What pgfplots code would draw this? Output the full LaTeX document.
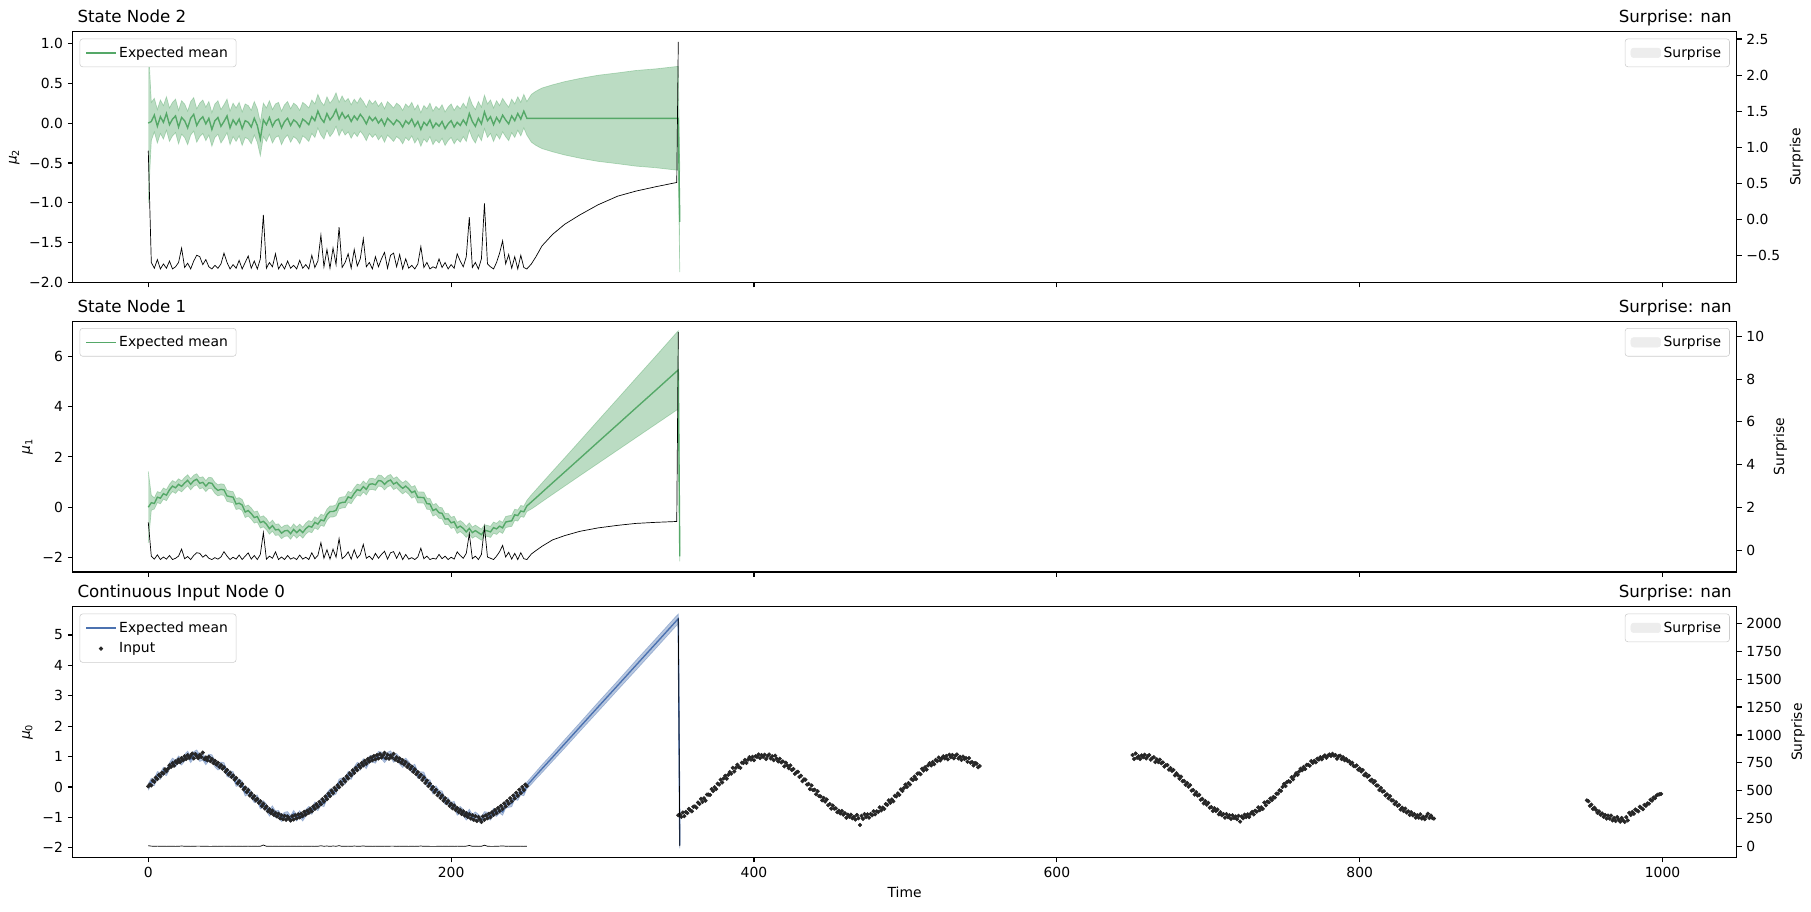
\documentclass[border=0pt]{standalone}
\usepackage{fontspec}
\setmainfont{DejaVu Sans}
\usepackage{pgfplots}
\pgfplotsset{compat=1.18}
\usepackage{pgfplotstable}

\definecolor{cgreen}{HTML}{55A868}
\definecolor{cblue}{HTML}{4C72B0}
\definecolor{cdot}{HTML}{262626}

\pgfplotstableread{
t m2 w2 e2 m1 w1 e1 m0 w0 e0
0 0.00 1.00 0.95 0.00 1.42 1.30 0.00 0.11 8
2 0.02 0.24 -0.60 0.18 0.30 -0.28 0.18 0.11 4
4 0.10 0.21 -0.68 0.15 0.22 -0.42 0.15 0.11 3
6 -0.04 0.21 -0.56 0.40 0.22 -0.22 0.40 0.11 4
8 0.08 0.21 -0.69 0.36 0.22 -0.44 0.36 0.11 3
10 0.01 0.21 -0.62 0.54 0.22 -0.32 0.54 0.11 3
12 0.12 0.21 -0.68 0.48 0.22 -0.42 0.48 0.11 2
14 -0.02 0.21 -0.58 0.69 0.22 -0.25 0.69 0.11 3
16 0.05 0.21 -0.69 0.84 0.22 -0.44 0.84 0.11 3
18 0.09 0.21 -0.66 0.77 0.22 -0.38 0.77 0.11 2
20 -0.05 0.21 -0.60 0.91 0.22 -0.28 0.91 0.11 3
22 0.07 0.21 -0.40 0.83 0.22 0.05 0.83 0.11 5
24 0.03 0.21 -0.67 0.96 0.22 -0.40 0.96 0.11 3
26 -0.06 0.21 -0.61 1.07 0.22 -0.30 1.07 0.11 3
28 0.06 0.21 -0.69 0.91 0.22 -0.44 0.91 0.11 2
30 0.11 0.21 -0.58 1.05 0.22 -0.25 1.05 0.11 3
32 -0.03 0.21 -0.50 1.11 0.22 -0.12 1.11 0.11 4
34 0.04 0.21 -0.52 0.95 0.22 -0.15 0.95 0.11 4
36 0.08 0.21 -0.63 0.99 0.22 -0.33 0.99 0.11 3
38 -0.01 0.21 -0.56 0.84 0.22 -0.22 0.84 0.11 3
40 0.06 0.21 -0.66 0.97 0.22 -0.38 0.97 0.11 2
42 -0.08 0.21 -0.69 0.95 0.22 -0.44 0.95 0.11 2
44 0.03 0.21 -0.64 0.77 0.22 -0.35 0.77 0.11 3
46 0.07 0.21 -0.68 0.67 0.22 -0.42 0.67 0.11 2
48 -0.04 0.21 -0.62 0.71 0.22 -0.32 0.71 0.11 3
50 0.02 0.21 -0.47 0.69 0.22 -0.07 0.69 0.11 4
52 0.09 0.21 -0.60 0.45 0.22 -0.28 0.45 0.11 3
54 -0.06 0.21 -0.69 0.42 0.22 -0.44 0.42 0.11 2
56 0.04 0.21 -0.63 0.40 0.22 -0.33 0.40 0.11 3
58 -0.02 0.21 -0.68 0.13 0.22 -0.42 0.13 0.11 2
60 0.05 0.21 -0.57 0.16 0.22 -0.23 0.16 0.11 3
62 -0.07 0.21 -0.69 0.09 0.22 -0.44 0.09 0.11 2
64 0.03 0.21 -0.60 -0.19 0.22 -0.28 -0.19 0.11 3
66 0.01 0.21 -0.51 -0.13 0.22 -0.13 -0.13 0.11 4
68 -0.05 0.21 -0.68 -0.25 0.22 -0.42 -0.25 0.11 2
70 0.06 0.21 -0.58 -0.41 0.22 -0.25 -0.41 0.11 3
72 -0.03 0.21 -0.69 -0.37 0.22 -0.44 -0.37 0.11 2
74 -0.20 0.21 -0.55 -0.61 0.22 -0.20 -0.61 0.11 3
76 0.04 0.21 0.06 -0.56 0.22 0.82 -0.56 0.11 14
78 -0.02 0.21 -0.68 -0.67 0.22 -0.42 -0.67 0.11 3
80 0.07 0.21 -0.60 -0.85 0.22 -0.28 -0.85 0.11 3
82 -0.04 0.21 -0.66 -0.73 0.22 -0.38 -0.73 0.11 2
84 0.03 0.21 -0.48 -0.90 0.22 -0.08 -0.90 0.11 4
86 0.05 0.21 -0.69 -0.88 0.22 -0.44 -0.88 0.11 2
88 -0.06 0.21 -0.62 -1.03 0.22 -0.32 -1.03 0.11 3
90 0.02 0.21 -0.69 -0.94 0.22 -0.44 -0.94 0.11 2
92 0.06 0.21 -0.58 -0.92 0.22 -0.25 -0.92 0.11 3
94 -0.03 0.21 -0.68 -1.05 0.22 -0.42 -1.05 0.11 2
96 0.04 0.21 -0.64 -0.88 0.22 -0.35 -0.88 0.11 3
98 0.01 0.21 -0.69 -1.01 0.22 -0.44 -1.01 0.11 2
100 -0.05 0.21 -0.57 -0.89 0.22 -0.23 -0.89 0.11 3
102 0.05 0.21 -0.68 -1.01 0.22 -0.42 -1.01 0.11 2
104 0.02 0.21 -0.63 -0.85 0.22 -0.33 -0.85 0.11 3
106 -0.02 0.21 -0.69 -0.75 0.22 -0.44 -0.75 0.11 2
108 0.08 0.21 -0.50 -0.79 0.22 -0.12 -0.79 0.11 4
110 0.03 0.21 -0.67 -0.60 0.22 -0.40 -0.60 0.11 2
112 0.15 0.21 -0.58 -0.67 0.22 -0.25 -0.67 0.11 3
114 0.06 0.21 -0.22 -0.50 0.22 0.35 -0.50 0.11 7
116 0.01 0.21 -0.66 -0.54 0.22 -0.38 -0.54 0.11 3
118 0.12 0.21 -0.42 -0.30 0.22 0.02 -0.30 0.11 5
120 0.04 0.21 -0.68 -0.17 0.22 -0.42 -0.17 0.11 2
122 0.09 0.21 -0.40 -0.17 0.22 0.05 -0.17 0.11 5
124 0.17 0.21 -0.63 -0.12 0.22 -0.33 -0.12 0.11 3
126 0.05 0.21 -0.11 0.15 0.22 0.54 0.15 0.11 8
128 0.13 0.21 -0.67 0.19 0.22 -0.40 0.19 0.11 2
130 0.06 0.21 -0.60 0.20 0.22 -0.28 0.20 0.11 3
132 0.10 0.21 -0.48 0.41 0.22 -0.08 0.41 0.11 4
134 0.02 0.21 -0.68 0.36 0.22 -0.42 0.36 0.11 2
136 0.09 0.21 -0.42 0.55 0.22 0.02 0.55 0.11 5
138 0.04 0.21 -0.65 0.70 0.22 -0.37 0.70 0.11 3
140 0.11 0.21 -0.55 0.66 0.22 -0.20 0.66 0.11 3
142 0.06 0.21 -0.27 0.82 0.22 0.27 0.82 0.11 6
144 -0.01 0.21 -0.66 0.71 0.22 -0.38 0.71 0.11 2
146 0.08 0.21 -0.60 0.91 0.22 -0.28 0.91 0.11 3
148 0.03 0.21 -0.69 0.93 0.22 -0.44 0.93 0.11 2
150 0.07 0.21 -0.52 0.89 0.22 -0.15 0.89 0.11 4
152 0.00 0.21 -0.66 1.06 0.22 -0.38 1.06 0.11 2
154 0.05 0.21 -0.55 1.04 0.22 -0.20 1.04 0.11 3
156 -0.03 0.21 -0.46 0.91 0.22 -0.05 0.91 0.11 4
158 0.06 0.21 -0.68 1.03 0.22 -0.42 1.03 0.11 2
160 0.02 0.21 -0.50 1.08 0.22 -0.12 1.08 0.11 4
162 -0.02 0.21 -0.47 0.92 0.22 -0.07 0.92 0.11 4
164 0.04 0.21 -0.66 0.99 0.22 -0.38 0.99 0.11 2
166 0.01 0.21 -0.49 0.86 0.22 -0.10 0.86 0.11 4
168 -0.05 0.21 -0.69 0.75 0.22 -0.44 0.75 0.11 2
170 0.03 0.21 -0.55 0.84 0.22 -0.20 0.84 0.11 3
172 -0.01 0.21 -0.68 0.73 0.22 -0.42 0.73 0.11 2
174 0.05 0.21 -0.64 0.58 0.22 -0.35 0.58 0.11 3
176 -0.04 0.21 -0.69 0.64 0.22 -0.44 0.64 0.11 2
178 0.02 0.21 -0.62 0.39 0.22 -0.32 0.39 0.11 3
180 -0.08 0.21 -0.38 0.39 0.22 0.09 0.39 0.11 5
182 0.01 0.21 -0.67 0.38 0.22 -0.40 0.38 0.11 2
184 -0.03 0.21 -0.60 0.14 0.22 -0.28 0.14 0.11 3
186 0.04 0.21 -0.69 0.13 0.22 -0.44 0.13 0.11 2
188 -0.06 0.21 -0.66 -0.13 0.22 -0.38 -0.13 0.11 2
190 0.00 0.21 -0.68 -0.07 0.22 -0.42 -0.07 0.11 2
192 -0.04 0.21 -0.55 -0.22 0.22 -0.20 -0.22 0.11 3
194 0.02 0.21 -0.67 -0.24 0.22 -0.40 -0.24 0.11 2
196 -0.07 0.21 -0.60 -0.47 0.22 -0.28 -0.47 0.11 3
198 -0.01 0.21 -0.69 -0.46 0.22 -0.44 -0.46 0.11 2
200 0.03 0.21 -0.63 -0.62 0.22 -0.33 -0.62 0.11 3
202 -0.05 0.21 -0.68 -0.58 0.22 -0.42 -0.58 0.11 2
204 0.01 0.21 -0.48 -0.82 0.22 -0.08 -0.82 0.11 4
206 -0.03 0.21 -0.58 -0.75 0.22 -0.25 -0.75 0.11 3
208 0.04 0.21 -0.66 -0.84 0.22 -0.38 -0.84 0.11 2
210 -0.02 0.21 -0.52 -0.98 0.22 -0.15 -0.98 0.11 4
212 0.12 0.21 0.03 -0.84 0.22 0.77 -0.84 0.11 10
214 0.02 0.21 -0.67 -1.01 0.22 -0.40 -1.01 0.11 2
216 -0.04 0.21 -0.60 -0.93 0.22 -0.28 -0.93 0.11 3
218 0.06 0.21 -0.69 -1.01 0.22 -0.44 -1.01 0.11 2
220 -0.01 0.21 -0.55 -1.09 0.22 -0.20 -1.09 0.11 3
222 0.14 0.21 0.22 -0.92 0.22 1.09 -0.92 0.11 12
224 0.03 0.21 -0.62 -0.94 0.22 -0.32 -0.94 0.11 3
226 0.08 0.21 -0.66 -0.98 0.22 -0.38 -0.98 0.11 2
228 -0.02 0.21 -0.69 -0.81 0.22 -0.44 -0.81 0.11 2
230 0.07 0.21 -0.60 -0.86 0.22 -0.28 -0.86 0.11 3
232 0.01 0.21 -0.47 -0.75 0.22 -0.07 -0.75 0.11 4
234 0.10 0.21 -0.30 -0.82 0.22 0.22 -0.82 0.11 6
236 0.04 0.21 -0.62 -0.59 0.22 -0.32 -0.59 0.11 3
238 -0.01 0.21 -0.49 -0.56 0.22 -0.10 -0.56 0.11 4
240 0.09 0.21 -0.68 -0.54 0.22 -0.42 -0.54 0.11 2
242 0.03 0.21 -0.52 -0.30 0.22 -0.15 -0.30 0.11 4
244 0.12 0.21 -0.69 -0.33 0.22 -0.44 -0.33 0.11 2
246 0.05 0.21 -0.50 -0.15 0.22 -0.12 -0.15 0.11 4
248 0.15 0.21 -0.67 -0.18 0.22 -0.40 -0.18 0.11 2
250 0.06 0.21 -0.69 0.05 0.22 -0.44 0.05 0.11 3
253 0.06 0.30 -0.62 0.21 0.28 -0.18 0.21 0.12 nan
256 0.06 0.34 -0.52 0.37 0.32 -0.02 0.38 0.12 nan
260 0.06 0.38 -0.37 0.59 0.37 0.18 0.60 0.13 nan
267 0.06 0.42 -0.21 0.97 0.46 0.48 0.98 0.13 nan
275 0.06 0.46 -0.07 1.40 0.56 0.68 1.42 0.14 nan
285 0.06 0.50 0.06 1.94 0.69 0.88 1.97 0.14 nan
297 0.06 0.54 0.20 2.59 0.85 1.04 2.63 0.15 nan
310 0.06 0.57 0.32 3.29 1.02 1.16 3.34 0.15 nan
322 0.06 0.60 0.39 3.94 1.18 1.25 4.00 0.16 nan
335 0.06 0.62 0.45 4.64 1.35 1.30 4.71 0.16 nan
349 0.06 0.65 0.51 5.40 1.54 1.34 5.48 0.16 nan
350 0.06 0.65 2.46 5.45 1.55 10.19 5.53 0.16 2045
351 -1.24 0.63 nan -1.95 0.20 nan -1.92 0.10 3
}\tMain

\pgfplotstableread[row sep=\\]{
t u\\
0 0.02\\1 0.08\\2 0.05\\3 0.21\\4 0.17\\5 0.31\\6 0.26\\7 0.40\\8 0.35\\9 0.47\\
10 0.44\\11 0.58\\12 0.52\\13 0.60\\14 0.71\\15 0.66\\16 0.78\\17 0.70\\18 0.84\\19 0.79\\
20 0.90\\21 0.82\\22 0.95\\23 0.88\\24 1.01\\25 0.92\\26 1.05\\27 0.96\\28 1.02\\29 1.10\\
30 0.94\\31 1.08\\32 1.01\\33 0.95\\34 1.06\\35 0.99\\36 1.13\\37 0.92\\38 0.97\\39 0.88\\
40 0.99\\41 0.85\\42 0.92\\43 0.79\\44 0.86\\45 0.74\\46 0.80\\47 0.66\\48 0.72\\49 0.60\\
50 0.65\\51 0.50\\52 0.56\\53 0.41\\54 0.47\\55 0.33\\56 0.38\\57 0.24\\58 0.30\\59 0.12\\
60 0.19\\61 0.03\\62 0.10\\63 -0.08\\64 -0.02\\65 -0.17\\66 -0.10\\67 -0.28\\68 -0.21\\69 -0.36\\
70 -0.30\\71 -0.44\\72 -0.39\\73 -0.52\\74 -0.47\\75 -0.63\\76 -0.55\\77 -0.71\\78 -0.64\\79 -0.80\\
80 -0.73\\81 -0.86\\82 -0.78\\83 -0.92\\84 -0.85\\85 -0.97\\86 -0.88\\87 -1.03\\88 -0.93\\89 -1.06\\
90 -0.95\\91 -1.08\\92 -0.97\\93 -1.04\\94 -1.10\\95 -0.96\\96 -1.07\\97 -0.93\\98 -1.03\\99 -0.90\\
100 -1.00\\101 -0.88\\102 -0.95\\103 -0.82\\104 -0.91\\105 -0.78\\106 -0.85\\107 -0.72\\108 -0.80\\109 -0.64\\
110 -0.72\\111 -0.57\\112 -0.65\\113 -0.49\\114 -0.57\\115 -0.40\\116 -0.48\\117 -0.31\\118 -0.40\\119 -0.22\\
120 -0.30\\121 -0.12\\122 -0.20\\123 -0.03\\124 -0.10\\125 0.06\\126 -0.01\\127 0.16\\128 0.08\\129 0.26\\
130 0.18\\131 0.35\\132 0.28\\133 0.45\\134 0.38\\135 0.55\\136 0.46\\137 0.63\\138 0.55\\139 0.72\\
140 0.64\\141 0.79\\142 0.71\\143 0.86\\144 0.77\\145 0.92\\146 0.84\\147 0.97\\148 0.88\\149 1.02\\
150 0.91\\151 1.05\\152 0.94\\153 1.08\\154 0.97\\155 1.04\\156 1.12\\157 0.95\\158 1.06\\159 0.93\\
160 1.03\\161 0.97\\162 1.09\\163 0.90\\164 0.98\\165 0.85\\166 0.94\\167 0.80\\168 0.88\\169 0.74\\
170 0.82\\171 0.66\\172 0.74\\173 0.59\\174 0.67\\175 0.50\\176 0.58\\177 0.42\\178 0.49\\179 0.33\\
180 0.40\\181 0.23\\182 0.31\\183 0.13\\184 0.21\\185 0.03\\186 0.11\\187 -0.07\\188 0.00\\189 -0.17\\
190 -0.09\\191 -0.27\\192 -0.19\\193 -0.36\\194 -0.28\\195 -0.45\\196 -0.37\\197 -0.53\\198 -0.46\\199 -0.62\\
200 -0.55\\201 -0.70\\202 -0.61\\203 -0.76\\204 -0.69\\205 -0.83\\206 -0.75\\207 -0.89\\208 -0.80\\209 -0.94\\
210 -0.86\\211 -0.99\\212 -0.90\\213 -1.04\\214 -0.93\\215 -1.08\\216 -0.96\\217 -1.12\\218 -0.99\\219 -1.06\\
220 -1.15\\221 -0.97\\222 -1.08\\223 -0.93\\224 -1.03\\225 -0.88\\226 -0.99\\227 -0.83\\228 -0.92\\229 -0.76\\
230 -0.86\\231 -0.69\\232 -0.79\\233 -0.62\\234 -0.72\\235 -0.54\\236 -0.64\\237 -0.46\\238 -0.55\\239 -0.37\\
240 -0.47\\241 -0.28\\242 -0.38\\243 -0.19\\244 -0.29\\245 -0.09\\246 -0.20\\247 0.00\\248 -0.10\\249 0.08\\
250 0.03\\
350 -0.93\\351 -0.90\\352 -0.98\\353 -0.84\\354 -0.96\\355 -0.82\\356 -0.86\\357 -0.72\\358 -0.77\\359 -0.80\\
360 -0.65\\361 -0.64\\362 -0.68\\363 -0.51\\364 -0.56\\365 -0.39\\366 -0.49\\367 -0.37\\368 -0.45\\369 -0.25\\
370 -0.25\\371 -0.26\\372 -0.07\\373 -0.13\\374 -0.01\\375 -0.07\\376 0.11\\377 0.08\\378 0.24\\379 0.15\\
380 0.28\\381 0.37\\382 0.27\\383 0.40\\384 0.49\\385 0.44\\386 0.63\\387 0.51\\388 0.63\\389 0.73\\
390 0.66\\391 0.63\\392 0.80\\393 0.79\\394 0.89\\395 0.79\\396 0.90\\397 0.98\\398 0.90\\399 0.99\\
400 0.88\\401 1.01\\402 0.99\\403 1.07\\404 0.95\\405 1.05\\406 0.99\\407 1.06\\408 0.92\\409 1.02\\
410 1.07\\411 0.94\\412 1.01\\413 0.88\\414 1.03\\415 0.93\\416 0.84\\417 0.93\\418 0.81\\419 0.84\\
420 0.68\\421 0.80\\422 0.71\\423 0.62\\424 0.71\\425 0.56\\426 0.59\\427 0.43\\428 0.48\\429 0.50\\
430 0.33\\431 0.37\\432 0.19\\433 0.25\\434 0.24\\435 0.08\\436 0.10\\437 -0.07\\438 0.05\\439 -0.10\\
440 -0.09\\441 -0.24\\442 -0.14\\443 -0.30\\444 -0.31\\445 -0.44\\446 -0.36\\447 -0.48\\448 -0.41\\449 -0.60\\
450 -0.56\\451 -0.71\\452 -0.61\\453 -0.71\\454 -0.70\\455 -0.83\\456 -0.78\\457 -0.87\\458 -0.79\\459 -0.91\\
460 -0.86\\461 -1.01\\462 -0.91\\463 -0.98\\464 -0.91\\465 -1.03\\466 -0.98\\467 -1.07\\468 -0.92\\469 -1.03\\
470 -1.25\\471 -0.95\\472 -1.05\\473 -0.89\\474 -0.99\\475 -0.90\\476 -1.01\\477 -0.89\\478 -0.93\\479 -0.80\\
480 -0.90\\481 -0.80\\482 -0.82\\483 -0.67\\484 -0.77\\485 -0.68\\486 -0.72\\487 -0.56\\488 -0.59\\489 -0.44\\
490 -0.52\\491 -0.41\\492 -0.47\\493 -0.29\\494 -0.31\\495 -0.21\\496 -0.26\\497 -0.08\\498 -0.13\\499 -0.03\\
500 0.08\\501 0.00\\502 0.13\\503 0.08\\504 0.26\\505 0.23\\506 0.34\\507 0.26\\508 0.44\\509 0.45\\
510 0.42\\511 0.60\\512 0.54\\513 0.65\\514 0.57\\515 0.71\\516 0.78\\517 0.71\\518 0.82\\519 0.75\\
520 0.89\\521 0.85\\522 0.97\\523 0.87\\524 0.94\\525 1.01\\526 0.94\\527 1.02\\528 0.91\\529 1.06\\
530 0.98\\531 1.05\\532 0.94\\533 1.03\\534 1.07\\535 0.94\\536 0.99\\537 0.89\\538 1.00\\539 0.92\\
540 0.95\\541 0.83\\542 0.95\\543 0.80\\544 0.82\\545 0.71\\546 0.79\\547 0.77\\548 0.65\\549 0.69\\
650 1.05\\651 0.92\\652 1.10\\653 0.96\\654 1.01\\655 0.92\\656 1.04\\657 0.98\\658 1.06\\659 0.94\\
660 1.01\\661 1.05\\662 0.90\\663 0.95\\664 0.98\\665 0.82\\666 0.91\\667 0.82\\668 0.90\\669 0.78\\
670 0.81\\671 0.67\\672 0.72\\673 0.72\\674 0.57\\675 0.62\\676 0.53\\677 0.56\\678 0.38\\679 0.45\\
680 0.38\\681 0.27\\682 0.34\\683 0.19\\684 0.20\\685 0.07\\686 0.13\\687 0.01\\688 0.06\\689 -0.12\\
690 -0.10\\691 -0.25\\692 -0.17\\693 -0.28\\694 -0.26\\695 -0.42\\696 -0.39\\697 -0.54\\698 -0.46\\699 -0.58\\
700 -0.52\\701 -0.68\\702 -0.66\\703 -0.79\\704 -0.70\\705 -0.79\\706 -0.74\\707 -0.90\\708 -0.83\\709 -0.93\\
710 -0.89\\711 -1.01\\712 -0.89\\713 -0.99\\714 -0.93\\715 -1.05\\716 -0.93\\717 -1.02\\718 -0.97\\719 -1.06\\
720 -0.95\\721 -1.14\\722 -0.97\\723 -1.03\\724 -0.91\\725 -0.99\\726 -0.90\\727 -0.99\\728 -0.88\\729 -0.82\\
730 -0.90\\731 -0.78\\732 -0.81\\733 -0.67\\734 -0.76\\735 -0.67\\736 -0.72\\737 -0.51\\738 -0.60\\739 -0.48\\
740 -0.50\\741 -0.38\\742 -0.43\\743 -0.33\\744 -0.35\\745 -0.22\\746 -0.22\\747 -0.11\\748 -0.13\\749 0.00\\
750 0.10\\751 0.03\\752 0.16\\753 0.19\\754 0.17\\755 0.32\\756 0.25\\757 0.37\\758 0.45\\759 0.40\\
760 0.51\\761 0.60\\762 0.55\\763 0.66\\764 0.59\\765 0.73\\766 0.73\\767 0.70\\768 0.85\\769 0.79\\
770 0.86\\771 0.81\\772 0.93\\773 0.90\\774 0.98\\775 0.91\\776 1.00\\777 1.04\\778 0.96\\779 1.03\\
780 1.07\\781 1.02\\782 1.09\\783 1.03\\784 1.05\\785 0.93\\786 1.01\\787 1.03\\788 0.92\\789 0.98\\
790 0.88\\791 0.92\\792 0.85\\793 0.85\\794 0.76\\795 0.80\\796 0.69\\797 0.68\\798 0.71\\799 0.57\\
800 0.61\\801 0.51\\802 0.56\\803 0.39\\804 0.44\\805 0.34\\806 0.37\\807 0.21\\808 0.24\\809 0.14\\
810 0.19\\811 0.05\\812 0.05\\813 -0.10\\814 -0.03\\815 -0.15\\816 -0.14\\817 -0.28\\818 -0.24\\819 -0.37\\
820 -0.30\\821 -0.44\\822 -0.44\\823 -0.56\\824 -0.50\\825 -0.62\\826 -0.59\\827 -0.74\\828 -0.68\\829 -0.79\\
830 -0.71\\831 -0.84\\832 -0.80\\833 -0.92\\834 -0.83\\835 -0.93\\836 -0.89\\837 -1.01\\838 -0.93\\839 -1.01\\
840 -0.90\\841 -1.04\\842 -0.98\\843 -1.06\\844 -0.96\\845 -0.88\\846 -1.02\\847 -0.94\\848 -1.02\\849 -1.04\\
950 -0.44\\951 -0.47\\952 -0.62\\953 -0.58\\954 -0.72\\955 -0.68\\956 -0.75\\957 -0.85\\958 -0.80\\959 -0.91\\
960 -0.87\\961 -0.98\\962 -0.92\\963 -1.04\\964 -0.94\\965 -1.04\\966 -0.94\\967 -1.10\\968 -1.02\\969 -1.12\\
970 -0.99\\971 -1.07\\972 -1.14\\973 -1.02\\974 -1.10\\975 -1.15\\976 -0.99\\977 -1.10\\978 -0.85\\979 -0.92\\
980 -0.82\\981 -0.88\\982 -0.74\\983 -0.77\\984 -0.80\\985 -0.65\\986 -0.69\\987 -0.73\\988 -0.59\\989 -0.62\\
990 -0.54\\991 -0.55\\992 -0.42\\993 -0.45\\994 -0.35\\995 -0.37\\996 -0.28\\997 -0.25\\998 -0.24\\999 -0.23\\
}\tIn

\pgfplotsset{
  base/.style={scale only axis, width=1198.1pt, height=180.6pt,
    xmin=-49.95, xmax=1048.95, tick align=outside, major tick length=3.5pt,
    unbounded coords=jump,
    every tick/.style={black, line width=0.8pt},
    axis line style={line width=0.8pt},
    tick label style={font=\fontsize{10}{12}\selectfont},
    label style={font=\fontsize{10}{12}\selectfont},
    legend style={font=\fontsize{10}{12}\selectfont, draw=black!20, rounded corners=2pt,
      inner xsep=4pt, inner ysep=3.5pt, row sep=2pt},
    legend cell align=left},
  leftax/.style={base, xtick={0,200,400,600,800,1000}, xtick pos=left, ytick pos=left,
    legend style={at={(0,1)}, anchor=north west, xshift=5pt, yshift=-5pt},
    legend image code/.code={\draw[##1] (0cm,0cm) -- (0.75cm,0cm);}},
  rightax/.style={base, axis y line*=right, axis x line=none, ylabel={Surprise},
    legend style={at={(1,1)}, anchor=north east, xshift=-5pt, yshift=-5pt},
    legend image code/.code={\fill[black!7] (0cm,-0.12cm) rectangle (0.75cm,0.12cm);}},
  edge/.style={opacity=0.4, line width=0.5pt},
}

\begin{document}
\begin{tikzpicture}
\useasboundingbox (-52.3pt,-452.7pt) rectangle (1251.6pt,203.4pt);

%% ---------------- Panel: State Node 2 ----------------
\begin{axis}[leftax, name=p2, at={(0pt,0pt)}, anchor=south west,
  ymin=-2.0, ymax=1.147, ytick={-2,-1.5,-1,-0.5,0,0.5,1},
  yticklabels={−2.0,−1.5,−1.0,−0.5,0.0,0.5,1.0}, xticklabels={},
  ylabel={\textit{μ}\textsubscript{2}}]
\addlegendimage{cgreen, line width=1pt}
\addlegendentry{Expected mean}
\addplot[draw=none, stack plots=y] table[x=t, y expr=\thisrow{m2}-\thisrow{w2}]{\tMain};
\addplot[draw=none, fill=cgreen, fill opacity=0.4, stack plots=y] table[x=t, y expr=2*\thisrow{w2}]{\tMain} \closedcycle;
\addplot[cgreen, edge] table[x=t, y expr=\thisrow{m2}+\thisrow{w2}]{\tMain};
\addplot[cgreen, edge] table[x=t, y expr=\thisrow{m2}-\thisrow{w2}]{\tMain};
\addplot[cgreen, line width=1pt] table[x=t, y=m2]{\tMain};
\end{axis}
\begin{axis}[rightax, at={(0pt,0pt)}, anchor=south west,
  ymin=-0.878, ymax=2.602, ytick={-0.5,0,0.5,1,1.5,2,2.5},
  yticklabels={−0.5,0.0,0.5,1.0,1.5,2.0,2.5}]
\addlegendimage{black!7}
\addlegendentry{Surprise}
\addplot[black, line width=0.5pt] table[x=t, y=e2]{\tMain};
\end{axis}
\node[anchor=base west, font=\fontsize{12}{14}\selectfont] at ([yshift=6.5pt]p2.north west) {State Node 2};
\node[anchor=base east, font=\fontsize{12}{14}\selectfont] at ([yshift=6.5pt]p2.north east) {Surprise: nan};

%% ---------------- Panel: State Node 1 ----------------
\begin{axis}[leftax, name=p1, at={(0pt,-208.4pt)}, anchor=south west,
  ymin=-2.57, ymax=7.39, ytick={-2,0,2,4,6},
  yticklabels={−2,0,2,4,6}, xticklabels={},
  ylabel={\textit{μ}\textsubscript{1}}]
\addlegendimage{cgreen, line width=1pt}
\addlegendentry{Expected mean}
\addplot[draw=none, stack plots=y] table[x=t, y expr=\thisrow{m1}-\thisrow{w1}]{\tMain};
\addplot[draw=none, fill=cgreen, fill opacity=0.4, stack plots=y] table[x=t, y expr=2*\thisrow{w1}]{\tMain} \closedcycle;
\addplot[cgreen, edge] table[x=t, y expr=\thisrow{m1}+\thisrow{w1}]{\tMain};
\addplot[cgreen, edge] table[x=t, y expr=\thisrow{m1}-\thisrow{w1}]{\tMain};
\addplot[cgreen, line width=1pt] table[x=t, y=m1]{\tMain};
\end{axis}
\begin{axis}[rightax, at={(0pt,-208.4pt)}, anchor=south west,
  ymin=-1.02, ymax=10.71, ytick={0,2,4,6,8,10},
  yticklabels={0,2,4,6,8,10}]
\addlegendimage{black!7}
\addlegendentry{Surprise}
\addplot[black, line width=0.5pt] table[x=t, y=e1]{\tMain};
\end{axis}
\node[anchor=base west, font=\fontsize{12}{14}\selectfont] at ([yshift=6.5pt]p1.north west) {State Node 1};
\node[anchor=base east, font=\fontsize{12}{14}\selectfont] at ([yshift=6.5pt]p1.north east) {Surprise: nan};

%% ---------------- Panel: Continuous Input Node 0 ----------------
\begin{axis}[leftax, name=p0, at={(0pt,-414pt)}, anchor=south west,
  ymin=-2.32, ymax=5.93, ytick={-2,-1,0,1,2,3,4,5},
  yticklabels={−2,−1,0,1,2,3,4,5},
  xticklabels={0,200,400,600,800,1000}, xlabel={Time},
  ylabel={\textit{μ}\textsubscript{0}}]
\addlegendimage{cblue, line width=1pt}
\addlegendentry{Expected mean}
\addlegendimage{legend image code/.code={\fill[cdot] (0.375cm,0cm) circle (1.3pt);}}
\addlegendentry{Input}
\addplot[draw=none, stack plots=y] table[x=t, y expr=\thisrow{m0}-\thisrow{w0}]{\tMain};
\addplot[draw=none, fill=cblue, fill opacity=0.4, stack plots=y] table[x=t, y expr=2*\thisrow{w0}]{\tMain} \closedcycle;
\addplot[cblue, edge] table[x=t, y expr=\thisrow{m0}+\thisrow{w0}]{\tMain};
\addplot[cblue, edge] table[x=t, y expr=\thisrow{m0}-\thisrow{w0}]{\tMain};
\addplot[cblue, line width=1pt] table[x=t, y=m0]{\tMain};
\addplot[only marks, mark=*, mark size=1.3pt, cdot] table[x=t, y=u]{\tIn};
\end{axis}
\begin{axis}[rightax, at={(0pt,-414pt)}, anchor=south west,
  ymin=-98, ymax=2149, ytick={0,250,500,750,1000,1250,1500,1750,2000},
  yticklabels={0,250,500,750,1000,1250,1500,1750,2000}]
\addlegendimage{black!7}
\addlegendentry{Surprise}
\addplot[black, line width=0.5pt] table[x=t, y=e0]{\tMain};
\end{axis}
\node[anchor=base west, font=\fontsize{12}{14}\selectfont] at ([yshift=6.5pt]p0.north west) {Continuous Input Node 0};
\node[anchor=base east, font=\fontsize{12}{14}\selectfont] at ([yshift=6.5pt]p0.north east) {Surprise: nan};
\end{tikzpicture}
\end{document}
